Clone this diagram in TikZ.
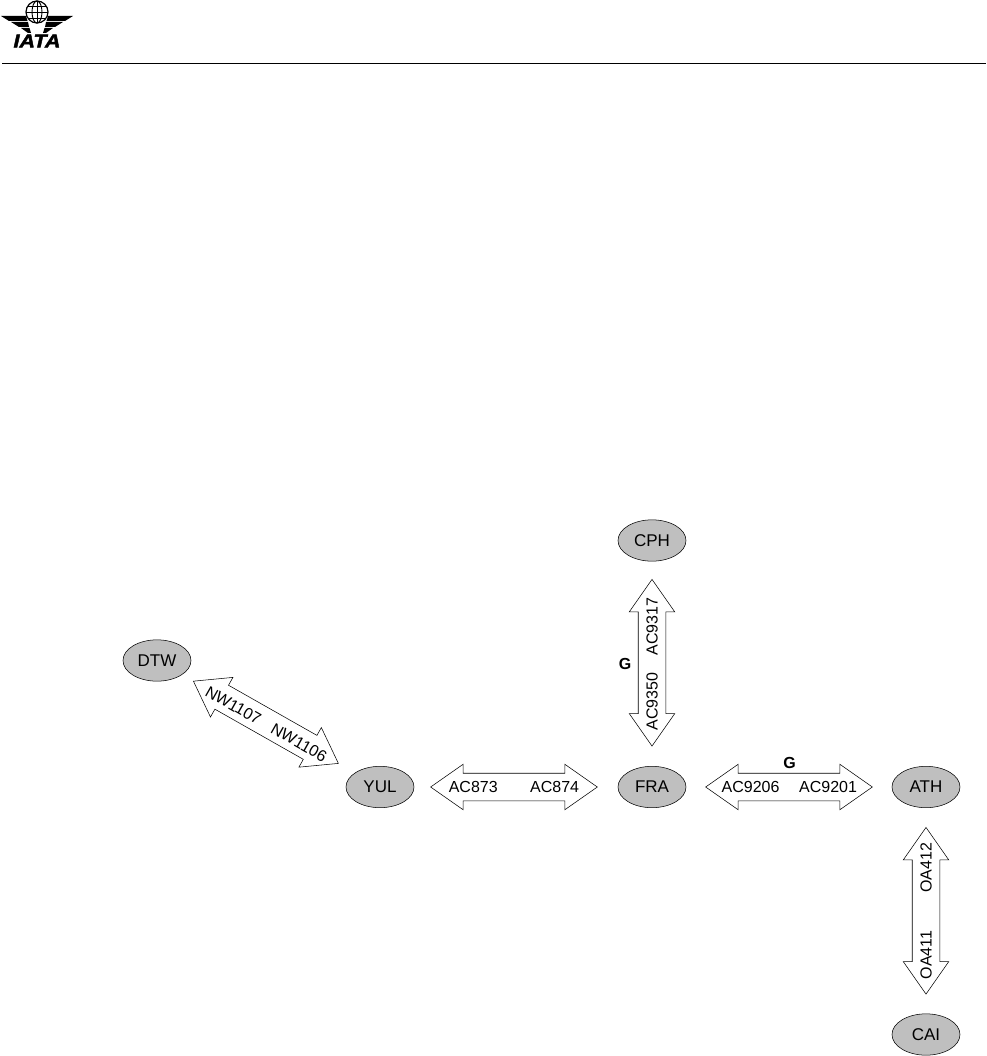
\documentclass[tikz,border=0pt]{standalone}
\usepackage{fontspec}
\setmainfont{Liberation Sans}
\newfontfamily\iatafont[BoldItalicFeatures={FakeBold=2}]{Liberation Sans}
\usetikzlibrary{shapes.geometric,shapes.arrows}

\begin{document}
\begin{tikzpicture}[
	x=0.75pt, y=-0.75pt,
	airport/.style={ ellipse, draw, thin, fill=black!25, inner sep=0pt, minimum width=51pt, minimum height=31pt, font=\fontsize{12.75}{15}\selectfont },
	link/.style={ double arrow, draw, thin, fill=white, inner xsep=0pt, inner ysep=6pt, text height=8.25pt, text depth=0pt, minimum height=125pt, double arrow head extend=6.75pt, double arrow tip angle=70, double arrow head indent=0pt, sloped },
	flight/.style={ inner sep=0pt, sloped, font=\fontsize{12}{14}\selectfont },
	gsign/.style={ inner sep=0pt, font=\bfseries\fontsize{12}{14}\selectfont }
]
\useasboundingbox (0,0) rectangle (986,1056);

% header
\coordinate (ruleL) at (2,63.5);
\coordinate (ruleR) at (986,63.5);
\draw[line width=0.8pt] (ruleL) -- (ruleR);
\draw[line width=0.9pt] (37,12) circle (11);
\draw[line width=0.7pt] (37,12) ellipse (5 and 11);
\draw[line width=0.7pt] (37,1) -- (37,23) (26,12) -- (48,12) (28,6) -- (46,6) (28,18) -- (46,18);
\foreach \s in {1,-1} {
	\begin{scope}[shift={(37,0)},xscale=\s]
	\fill (-36,16) -- (-11,16) -- (-9.5,21) -- (-28,21) -- cycle;
	\fill (-26,22) -- (-9,22) -- (-8,27) -- (-18,27) -- cycle;
	\fill (-16,28) -- (-7.5,28) -- (-6,33) -- (-9,33) -- cycle;
	\end{scope}
}
\node at (37,41) (iata) [inner sep=0pt, xscale=1.15, font=\iatafont\bfseries\itshape\fontsize{14}{15}\selectfont] {IATA};

\node at (157,660.5) (dtw) [airport] {DTW};
\node at (380,787) (yul) [airport] {YUL};
\node at (652,787) (fra) [airport] {FRA};
\node at (926,787) (ath) [airport] {ATH};
\node at (652,540.5) (cph) [airport] {CPH};
\node at (926,1034.5) (cai) [airport] {CAI};

\path (dtw) -- (yul) node[link,pos=.485] (dtwyul) {} node[flight,pos=.3,yshift=-1] (nwa) {NW1107} node[flight,pos=.68,yshift=-1] (nwb) {NW1106};
\path (yul) -- (fra) node[link,pos=.49] (yulfra) {} node[flight,pos=.29] (aca) {AC873} node[flight,pos=.69] (acb) {AC874};
\path (fra) -- (ath) node[link,pos=.5] (fraath) {} node[flight,pos=.313] (acc) {AC9206} node[flight,pos=.69] (acd) {AC9201};
\path (fra) -- (cph) node[link,pos=.505] (fracph) {} node[flight,pos=.315] (ace) {AC9350} node[flight,pos=.681] (acf) {AC9317};
\path (cai) -- (ath) node[link,pos=.5] (caiath) {} node[flight,pos=.285] (oaa) {OA411} node[flight,pos=.708] (oab) {OA412};

\node at (625,664) (gcph) [gsign] {G};
\node at (789.5,762.5) (gath) [gsign] {G};

\end{tikzpicture}
\end{document}
